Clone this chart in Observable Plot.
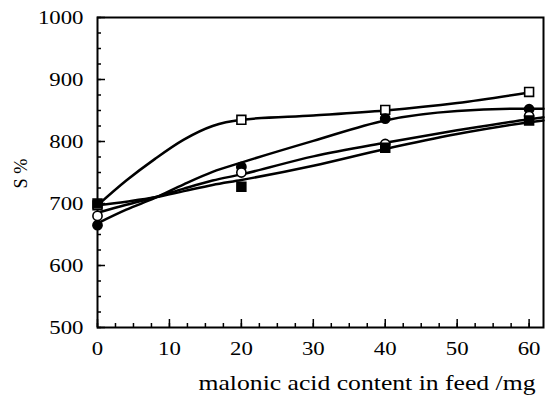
<!DOCTYPE html>
<html>
<head>
<meta charset="utf-8">
<script src="https://cdn.jsdelivr.net/npm/d3@7"></script>
<script src="https://cdn.jsdelivr.net/npm/@observablehq/plot@0.6"></script>
<style>
  html, body { margin: 0; padding: 0; background: #fff; }
  svg { display: block; }
  svg text { font-family: 'Liberation Serif', 'Times New Roman', serif; }
</style>
</head>
<body>
<div id="chart"></div>
<script>
// Measured points
const feedX = [0, 20, 40, 60];
const openSquare   = [697, 835, 851, 880];
const filledCircle = [665, 759, 837, 852];
const openCircle   = [680, 750, 796, 841];
const filledSquare = [700, 727, 790, 834];

// Fitted curves
const fitX = [0, 4, 8, 12, 16, 20, 30, 40, 50, 60, 62];
const fitOpenSquare   = [697, 737, 772, 803, 825, 835, 842, 850, 862, 879, null];
const fitFilledCircle = [668, 690, 709, 731, 751, 766, 801, 834, 849, 853, 853];
const fitOpenCircle   = [685, 698, 710, 724, 737, 747, 776, 798, 818, 836, 839];
const fitFilledSquare = [697, 703, 710, 720, 730, 738, 761, 788, 812, 831, 834];

// Axis ticks
const xMajor = [0, 10, 20, 30, 40, 50, 60];
const xMinor = d3.range(0, 62, 2.5);
const yMajor = [500, 600, 700, 800, 900, 1000];
const yMinor = d3.range(500, 1001, 25);

const xLabel = "malonic acid content in feed /mg";
const yLabel = "S %";

const series = [
  {name: "openSquare", vals: openSquare, fit: fitOpenSquare, symbol: "square", fill: "white", r: 5},
  {name: "filledCircle", vals: filledCircle, fit: fitFilledCircle, symbol: "circle", fill: "black", r: 4.6},
  {name: "openCircle", vals: openCircle, fit: fitOpenCircle, symbol: "circle", fill: "white", r: 4.6},
  {name: "filledSquare", vals: filledSquare, fit: fitFilledSquare, symbol: "square", fill: "black", r: 5}
];

const fitRows = series.flatMap(s => fitX.map((x, i) => ({series: s.name, x, y: s.fit[i]})).filter(d => d.y != null));
const pointRows = s => feedX.map((x, i) => ({series: s.name, x, y: s.vals[i]}));

const font = "'Liberation Serif', 'Times New Roman', serif";
const fmt = d3.format("d");

const marks = [
  Plot.frame({stroke: "black", strokeWidth: 2}),
  Plot.axisY(yMinor, {tickSize: -4, tickFormat: () => "", label: null, strokeWidth: 1.5}),
  Plot.axisY(yMajor, {tickSize: -8, tickFormat: () => "", label: null, strokeWidth: 1.5}),
  Plot.axisY(yMajor, {tickSize: 0, tickPadding: 14, label: null, fontSize: 19, fill: "black", fontFamily: font, tickFormat: fmt, ariaLabel: "ylab"}),
  Plot.axisX(xMinor, {tickSize: -4, tickFormat: () => "", label: null, strokeWidth: 1.5}),
  Plot.axisX(xMajor, {tickSize: -8, tickFormat: () => "", label: null, strokeWidth: 1.5}),
  Plot.axisX(xMajor, {tickSize: 0, tickPadding: 14, label: null, fontSize: 19, fill: "black", fontFamily: font, tickFormat: fmt, ariaLabel: "xlab"}),
  Plot.line(fitRows, {x: "x", y: "y", z: "series", stroke: "black", strokeWidth: 2.5, curve: "monotone-x"}),
  ...series.map(s => Plot.dot(pointRows(s), {x: "x", y: "y", symbol: () => s.symbol, r: s.r, fill: s.fill, stroke: "black", strokeWidth: 1.6})),
  Plot.text([xLabel], {frameAnchor: "bottom-right", text: d => d, dx: -8, dy: 56, fontSize: 21, fontFamily: font, textAnchor: "end", lineAnchor: "middle", fill: "black"}),
  Plot.text([yLabel], {frameAnchor: "left", text: d => d, dx: -76, dy: 16, rotate: -90, fontSize: 18, fontFamily: font, fill: "black"})
];

const chart = Plot.plot({
  width: 548,
  height: 406,
  marginLeft: 97,
  marginRight: 5,
  marginTop: 17,
  marginBottom: 79,
  style: {fontFamily: font, background: "white", color: "black"},
  x: {domain: [0, 62], axis: null},
  y: {domain: [500, 1000], axis: null},
  symbol: {type: "identity"},
  marks
});
document.getElementById("chart").appendChild(chart);

// horizontal stretch of the serif glyphs, as in the scanned figure
const setLen = (el, w) => { el.setAttribute("textLength", w); el.setAttribute("lengthAdjust", "spacingAndGlyphs"); };
d3.select(chart).selectAll('g[aria-label^="ylab"] text, g[aria-label^="xlab"] text').each(function() {
  const w = this.getComputedTextLength();
  if (w > 0) setLen(this, w * 1.2);
});
d3.select(chart).selectAll("text").each(function() {
  if (this.textContent === xLabel) setLen(this, 337);
  if (this.textContent === yLabel) setLen(this, 30);
});
</script>
</body>
</html>
